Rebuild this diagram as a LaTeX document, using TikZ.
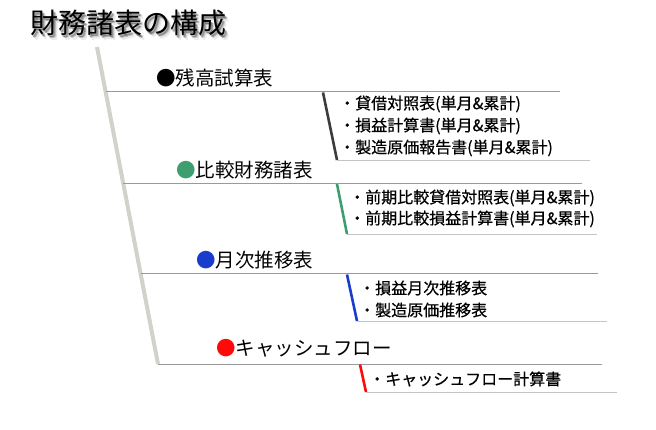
\documentclass[tikz,border=0pt]{standalone}
\usepackage{fontspec}
\setmainfont{Noto Sans CJK JP}
\newfontfamily\itemfont{Noto Sans CJK JP}[FakeBold=0.5]
\definecolor{hgray}{HTML}{9A9A9A}
\definecolor{sgray}{HTML}{C4C4C4}
\definecolor{diag}{HTML}{D2D2CA}
\definecolor{darkc}{HTML}{3C3C3C}
\definecolor{greenc}{HTML}{3F9E6F}
\definecolor{bluec}{HTML}{1A3CCC}
\definecolor{redc}{HTML}{FF0A0A}
\begin{document}
\begin{tikzpicture}[x=1pt,y=-1pt,
  titlebox/.style={anchor=west, inner sep=0pt, font=\fontsize{28}{30}\selectfont},
  head/.style={anchor=west, inner sep=0pt, font=\fontsize{19.5}{21}\selectfont},
  item/.style={anchor=west, inner sep=0pt, font=\itemfont\fontsize{16}{18}\selectfont},
  hline/.style={draw=hgray, line width=1pt},
  sline/.style={draw=sgray, line width=0.9pt},
  tickline/.style={line width=2.6pt}]
\useasboundingbox (0,0) rectangle (656,430);
% title with soft shadow
\foreach \i/\dx/\dy/\op in {1/4.5/4.5/0.08, 2/3.5/3/0.12, 3/2.5/2/0.18, 4/2/3/0.15, 5/1.5/1.5/0.2}
  \node[titlebox, text=black, opacity=\op] (tsh\i) at (30+\dx,23+\dy) {財務諸表の構成};
\node[titlebox] (title) at (30,23) {財務諸表の構成};
% diagonal spine
\coordinate (dtop) at (97,47);
\coordinate (dbot) at (158,364);
\draw[line width=4pt, draw=diag] (dtop) -- (dbot);
% heading lines
\coordinate (h1s) at (105.6,92);  \coordinate (h1e) at (560,92);
\coordinate (h2s) at (123.3,183.5); \coordinate (h2e) at (582,183.5);
\coordinate (h3s) at (140.6,274); \coordinate (h3e) at (598,274);
\coordinate (h4s) at (158,364);   \coordinate (h4e) at (602,364);
\draw[hline] (h1s) -- (h1e);
\draw[hline] (h2s) -- (h2e);
\draw[hline] (h3s) -- (h3e);
\draw[hline] (h4s) -- (h4e);
% sub lines
\coordinate (t1a) at (323,92.5);  \coordinate (t1b) at (337,160); \coordinate (s1e) at (590,160);
\coordinate (t2a) at (337,184);   \coordinate (t2b) at (347,234); \coordinate (s2e) at (597,234);
\coordinate (t3a) at (347,274.5); \coordinate (t3b) at (357,321); \coordinate (s3e) at (607,321);
\coordinate (t4a) at (360,364.5); \coordinate (t4b) at (366,392); \coordinate (s4e) at (617,392);
\draw[sline] (t1b) -- (s1e);
\draw[sline] (t2b) -- (s2e);
\draw[sline] (t3b) -- (s3e);
\draw[sline] (t4b) -- (s4e);
\draw[tickline, draw=darkc] (t1a) -- (t1b);
\draw[tickline, draw=greenc] (t2a) -- (t2b);
\draw[tickline, draw=bluec] (t3a) -- (t3b);
\draw[tickline, draw=redc] (t4a) -- (t4b);
% headings
\node[head] (hd1) at (156,78)  {{\color{black}●}残高試算表};
\node[head] (hd2) at (176,170) {{\color{greenc}●}比較財務諸表};
\node[head] (hd3) at (196,260) {{\color{bluec}●}月次推移表};
\node[head] (hd4) at (216,348) {{\color{redc}●}キャッシュフロー};
% items
\node[item] (a1) at (339,104) {・貸借対照表(単月\&累計)};
\node[item] (a2) at (339,126) {・損益計算書(単月\&累計)};
\node[item] (a3) at (339,148) {・製造原価報告書(単月\&累計)};
\node[item] (b1) at (349,198) {・前期比較貸借対照表(単月\&累計)};
\node[item] (b2) at (349,219) {・前期比較損益計算書(単月\&累計)};
\node[item] (c1) at (359,288) {・損益月次推移表};
\node[item] (c2) at (359,310) {・製造原価推移表};
\node[item] (d1) at (369,379) {・キャッシュフロー計算書};
\end{tikzpicture}
\end{document}
